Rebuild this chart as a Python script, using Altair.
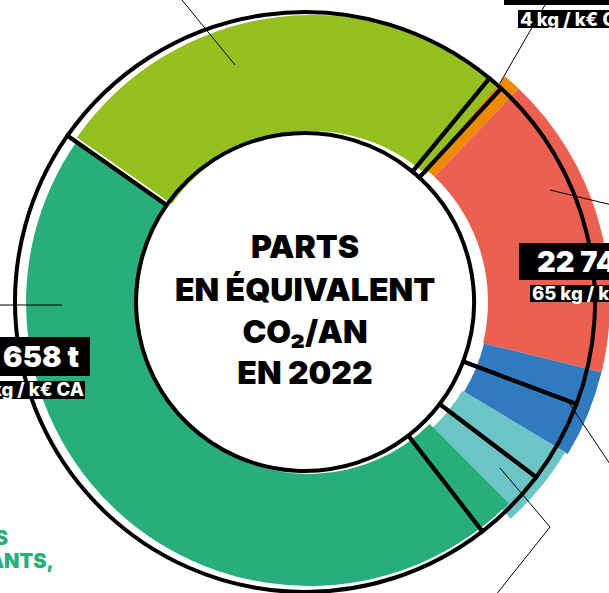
import math
import altair as alt
import pandas as pd

# ---- data ----
postes = ["Poste 1", "Poste 2", "Poste 3", "Poste 4", "Poste 5", "Poste 6"]
parts_couleur = [26.4, 1.0, 16.7, 4.8, 3.9, 47.2]     # coloured ring, % of 360°
parts_contour = [26.25, 0.85, 18.9, 4.6, 4.2, 45.2]   # black outline ring, % of 360°
couleurs = ["#93c01f", "#ef8a00", "#ec6052", "#307bc0", "#6cc4c6", "#28ae7a"]

df = pd.DataFrame({"poste": postes, "pc": parts_couleur, "po": parts_contour})
df["fin_c"] = df["pc"].cumsum()
df["debut_c"] = df["fin_c"] - df["pc"]
df["fin_o"] = df["po"].cumsum()
df["debut_o"] = df["fin_o"] - df["po"]

W, H = 609, 593
rot = math.radians(-55)
theta_scale = alt.Scale(domain=[0, 100], range=[rot, rot + 2 * math.pi])

# per-segment geometry of the coloured pieces (style, not data)
geo = {
    "Poste 1": dict(x=312, y=302, ri=171, ro=287, t2o=0.03),
    "Poste 2": dict(x=315, y=302, ri=173, ro=295, t2o=0.0),
    "Poste 3": dict(x=315, y=302, ri=173, ro=295, t2o=0.0),
    "Poste 4": dict(x=315, y=302, ri=174, ro=295, t2o=0.0),
    "Poste 5": dict(x=315, y=302, ri=172, ro=292, t2o=0.05),
    "Poste 6": dict(x=309, y=303, ri=171, ro=283, t2o=0.0),
}

base = alt.Chart(df)
layers = []
for p, col in zip(postes, couleurs):
    g = geo[p]
    layers.append(
        base.transform_filter(alt.datum.poste == p)
        .mark_arc(x=g["x"], y=g["y"], innerRadius=g["ri"], outerRadius=g["ro"],
                  theta2Offset=g["t2o"], color=col)
        .encode(theta=alt.Theta("debut_c:Q", scale=theta_scale), theta2="fin_c:Q")
    )

outline = base.mark_arc(
    filled=False, stroke="black", strokeWidth=4, x=305, y=302,
    innerRadius=169, outerRadius=290,
).encode(theta=alt.Theta("debut_o:Q", scale=theta_scale), theta2="fin_o:Q")
layers.append(outline)

one = alt.Data(values=[{"k": 1}])
HEAVY = "Inter"


def rule(x1, y1, x2, y2, w=1):
    return alt.Chart(one).mark_rule(color="black", strokeWidth=w).encode(
        x=alt.value(x1), y=alt.value(y1), x2=alt.value(x2), y2=alt.value(y2)
    )


def box(x1, y1, x2, y2):
    return alt.Chart(one).mark_rect(color="black").encode(
        x=alt.value(x1), y=alt.value(y1), x2=alt.value(x2), y2=alt.value(y2)
    )


def txt(t, x, y, size, color="black", weight=900, align="center", font=HEAVY):
    return alt.Chart(one).mark_text(
        text=t, x=x, y=y, fontSize=size, fontWeight=weight, color=color,
        align=align, baseline="alphabetic", font=font,
    )


# leader lines
layers += [
    rule(182, 0, 235, 65),
    rule(0, 305, 62, 305),
    rule(545, 5, 500, 83),
    rule(550, 190, 612, 205),
    rule(565, 397, 612, 467),
    rule(500, 468, 550, 527),
    rule(550, 527, 495, 596),
]

# label boxes
layers += [
    box(504, -40, 612, 5),
    box(518, 10, 612, 28),
    box(519, 243, 612, 280),
    box(530, 285, 612, 302),
    box(-5, 337, 90, 376),
    box(-5, 381, 85, 399),
]

# label texts
layers += [
    txt("4 kg / k€ CA", 520, 25.5, 18.5, "white", 800, "left"),
    txt("22 748 t", 537, 272, 29, "white", 900, "left"),
    txt("65 kg / k€ CA", 532, 299.5, 18.5, "white", 800, "left"),
    txt("31 658 t", 79, 367, 29, "white", 900, "right"),
    txt("36 kg / k€ CA", 84, 396, 18.5, "white", 800, "right"),
    txt("ÉMISSIONS", 8, 545, 20, "#28ae7a", 900, "right"),
    txt("FABRICANTS,", 54, 568, 20, "#28ae7a", 900, "right"),
]

# centre title
layers += [
    txt("PARTS", 305, 258, 32),
    txt("EN ÉQUIVALENT", 305, 301, 32),
    txt("CO₂/AN", 305, 343, 32),
    txt("EN 2022", 305, 384, 32),
]

chart = alt.layer(*layers).properties(
    width=W, height=H, autosize=alt.AutoSizeParams(type="none"), padding=0,
    background="white",
).configure_view(stroke=None)

chart.save("out.html", embed_options={"renderer": "svg", "actions": False})
